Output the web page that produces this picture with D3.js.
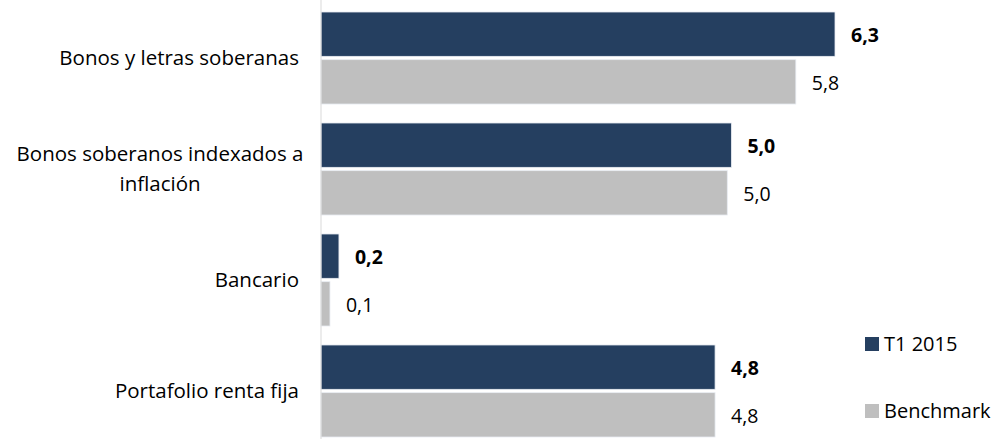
<!DOCTYPE html>
<html>
<head>
<meta charset="utf-8">
<script src="https://cdn.jsdelivr.net/npm/d3@7"></script>
<style>
  body { margin: 0; background: #fff; }
  text { font-family: "Open Sans", sans-serif; fill: #000; }
</style>
</head>
<body>
<div id="chart"></div>
<script>
// Data
const categories = ["Bonos y letras soberanas", "Bonos soberanos indexados a inflación", "Bancario", "Portafolio renta fija"];
const labelLines = [["Bonos y letras soberanas"], ["Bonos soberanos indexados a", "inflación"], ["Bancario"], ["Portafolio renta fija"]];
const seriesNames = ["T1 2015", "Benchmark"];
const t1Values = [6.3, 5.03, 0.22, 4.83];
const benchValues = [5.82, 4.98, 0.11, 4.83];
const colors = ["#253F60", "#BFBFBF"];

const W = 998, H = 439;
const axisX = 321;

const svg = d3.select("#chart").append("svg")
  .attr("width", W)
  .attr("height", H);

const g = svg.append("g")
  .attr("transform", `translate(${axisX},0)`);

// scales
const x = d3.scaleLinear().domain([0, 6.3]).range([0, 514]);
const y0 = d3.scaleBand().domain(categories).range([12, 437]).paddingInner(0.171).paddingOuter(0);
const y1 = d3.scaleBand().domain(seriesNames).range([0, y0.bandwidth()]).paddingInner(0.07);

const fmt = v => v.toFixed(1).replace(".", ",");

const rows = categories.map((c, i) => ({ cat: c, vals: [t1Values[i], benchValues[i]] }));

const groups = g.selectAll(".grp").data(rows).enter().append("g")
  .attr("transform", d => `translate(0,${y0(d.cat)})`);

groups.selectAll("rect").data(d => d.vals.map((v, j) => ({ v, s: seriesNames[j], j })))
  .enter().append("rect")
  .attr("x", 0)
  .attr("y", d => y1(d.s))
  .attr("width", d => x(d.v))
  .attr("height", y1.bandwidth())
  .attr("fill", d => colors[d.j])
  .attr("stroke", "#e8ecf2")
  .attr("stroke-width", 0.8);

groups.selectAll(".val").data(d => d.vals.map((v, j) => ({ v, s: seriesNames[j], j })))
  .enter().append("text")
  .attr("class", "val")
  .attr("x", d => x(d.v) + 16)
  .attr("y", d => y1(d.s) + y1.bandwidth() / 2 + 1)
  .attr("dy", "0.35em")
  .style("font-size", "19.5px")
  .style("font-weight", d => d.j === 0 ? "bold" : "normal")
  .text(d => fmt(d.v));

// axis line
g.append("line")
  .attr("x1", 0).attr("x2", 0)
  .attr("y1", 0).attr("y2", H)
  .attr("stroke", "#d9d9d9");

// category labels (wrapped ones are centred, like Excel does)
categories.forEach((c, i) => {
  const lines = labelLines[i];
  const cy = y0(c) + y0.bandwidth() / 2;
  const lh = 30;
  const t = g.append("text")
    .attr("text-anchor", lines.length > 1 ? "middle" : "end")
    .style("font-size", "20.5px");
  lines.forEach((l, k) => {
    t.append("tspan")
      .attr("x", lines.length > 1 ? -161 : -22)
      .attr("y", cy + (k - (lines.length - 1) / 2) * lh)
      .attr("dy", "0.35em")
      .text(l);
  });
});

// legend
const legend = svg.append("g").attr("transform", "translate(865,0)");
seriesNames.forEach((s, i) => {
  const ly = 344 + i * 67;
  legend.append("rect")
    .attr("x", 0).attr("y", ly - 7)
    .attr("width", 14).attr("height", 14)
    .attr("fill", colors[i]);
  legend.append("text")
    .attr("x", 19).attr("y", ly)
    .attr("dy", "0.35em")
    .style("font-size", "20px")
    .text(s);
});
</script>
</body>
</html>
